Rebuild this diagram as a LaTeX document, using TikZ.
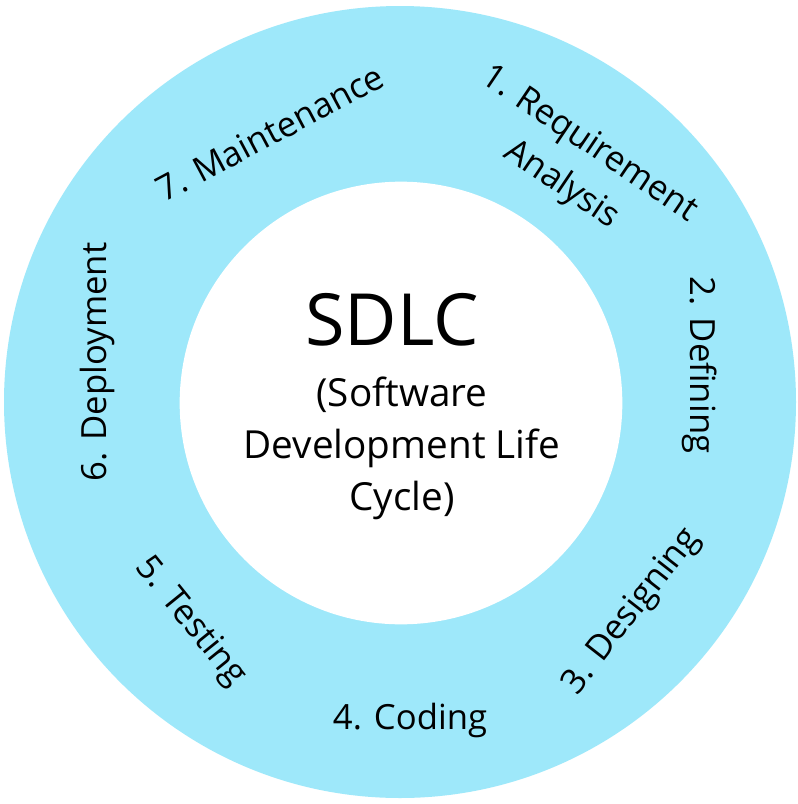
\documentclass[tikz,border=0pt]{standalone}
\usepackage{fontspec}
\setmainfont{Open Sans}
\definecolor{ringcyan}{RGB}{158,232,250}
\tikzset{
  phase/.style={inner sep=0.75pt, font=\fontsize{26}{37}\selectfont, align=center},
}

\begin{document}
\begin{tikzpicture}[x=0.75pt,y=0.75pt,yscale=-1,xscale=1]
\useasboundingbox (0,0) rectangle (798,804);
\fill [white] (0,0) rectangle (798,804);

% Ring
\draw [draw=none, fill=ringcyan] (400,402) circle [radius=297pt];
% Hole
\draw [draw=none, fill=white] (401,403) circle [radius=166pt];

% Text Node
\draw (392,320) node [inner sep=0.75pt, font=\fontsize{54}{58}\selectfont] (title) {SDLC};
% Text Node
\draw (402,448) node [inner sep=0.75pt, align=center, font=\fontsize{29}{39}\selectfont] (subtitle) {(Software\\Development Life\\Cycle)};

% Text Node
\draw (575,165) node [phase, rotate=-34] (req) {1. Requirement\\Analysis};
% Text Node
\draw (700,365) node [phase, rotate=-90] (def) {2. Defining};
% Text Node
\draw (632,612) node [phase, rotate=52] (des) {3. Designing};
% Text Node
\draw (410,720) node [phase] (cod) {4. Coding};
% Text Node
\draw (190,622) node [phase, rotate=-51] (tes) {5. Testing};
% Text Node
\draw (97,362) node [phase, rotate=90] (dep) {6. Deployment};
% Text Node
\draw (270,133) node [phase, rotate=28] (mai) {7. Maintenance};

\end{tikzpicture}
\end{document}
